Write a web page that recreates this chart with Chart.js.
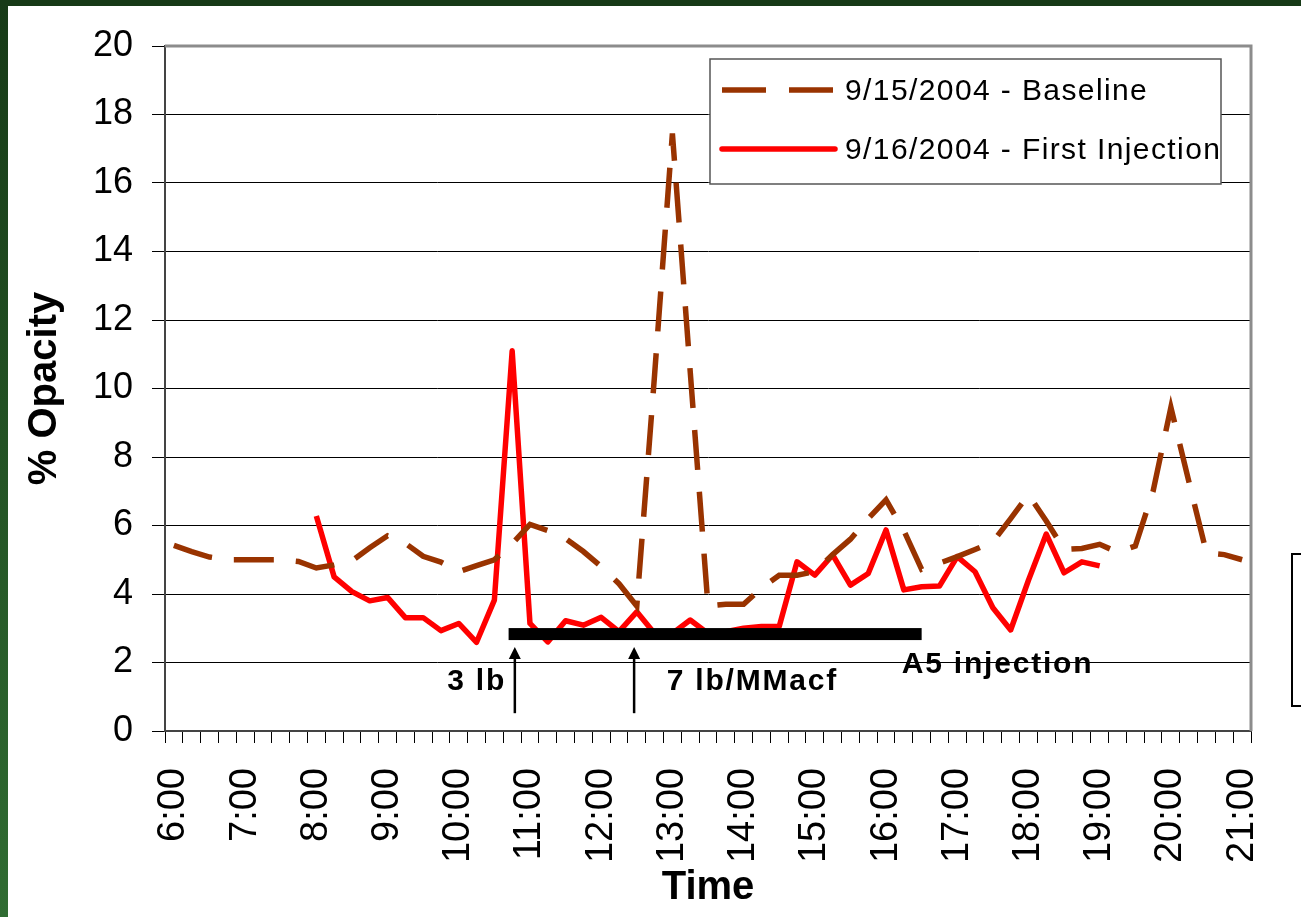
<!DOCTYPE html>
<html>
<head>
<meta charset="utf-8">
<script src="https://cdn.jsdelivr.net/npm/chart.js@4.4.0/dist/chart.umd.min.js"></script>
<style>
  html, body { margin: 0; padding: 0; background: #fff; }
  #wrap { position: relative; width: 1301px; height: 917px; overflow: hidden; background: #fff; }
  .frame-top { position: absolute; left: 0; top: 0; width: 1301px; height: 6px; background: #173a17; }
  .frame-left { position: absolute; left: 0; top: 0; width: 8px; height: 917px; background: linear-gradient(#173a17, #306c32); }
  .stray-box { position: absolute; left: 1291px; top: 553px; width: 40px; height: 150px; border: 2px solid #000; }
  canvas { position: absolute; left: 0; top: 0; }
</style>
</head>
<body>
<div id="wrap">
  <div class="frame-top"></div>
  <div class="frame-left"></div>
  <div class="stray-box"></div>
  <canvas id="opacity" width="1301" height="917"></canvas>
</div>
<script>
// readings every 15 minutes, 6:00 .. 21:00
const times = ['6:00','6:15','6:30','6:45','7:00','7:15','7:30','7:45','8:00','8:15','8:30','8:45',
  '9:00','9:15','9:30','9:45','10:00','10:15','10:30','10:45','11:00','11:15','11:30','11:45',
  '12:00','12:15','12:30','12:45','13:00','13:15','13:30','13:45','14:00','14:15','14:30','14:45',
  '15:00','15:15','15:30','15:45','16:00','16:15','16:30','16:45','17:00','17:15','17:30','17:45',
  '18:00','18:15','18:30','18:45','19:00','19:15','19:30','19:45','20:00','20:15','20:30','20:45','21:00'];

const baseline = [5.42, 5.24, 5.08, 5.0, 5.0, 5.0, 5.0, 4.95, 4.76, 4.85, 4.97, 5.35,
  5.7, 5.48, 5.1, 4.93, 4.65, 4.83, 5.0, 5.47, 6.03, 5.85, 5.62, 5.24,
  4.8, 4.3, 3.65, 10.4, 17.45, 10.5, 3.65, 3.7, 3.7, 4.17, 4.55, 4.55,
  4.65, 5.15, 5.6, 6.2, 6.75, 5.85, 4.72, 4.9, 5.09, 5.3, 5.52, 6.2,
  6.9, 6.13, 5.3, 5.33, 5.45, 5.22, 5.4, 7.0, 9.45, 7.3, 5.2, 5.15, 5.0];

const firstInjection = [null, null, null, null, null, null, null, null, 6.28, 4.5, 4.07, 3.8,
  3.9, 3.31, 3.31, 2.93, 3.14, 2.59, 3.82, 11.1, 3.14, 2.6, 3.22, 3.09,
  3.32, 2.9, 3.48, 2.85, 2.85, 3.24, 2.85, 2.9, 3.0, 3.05, 3.05, 4.94,
  4.55, 5.14, 4.26, 4.6, 5.87, 4.12, 4.21, 4.23, 5.09, 4.65, 3.6, 2.95,
  4.4, 5.75, 4.62, 4.94, 4.82, null, null, null, null, null, null, null, null];

const seriesNames = ['9/15/2004 - Baseline', '9/16/2004 - First Injection'];

// annotation: injection period bar (category index span) and its level
const barSpan = [18.8, 42.0];
const barLevel = 2.83;
// arrows marking the two feed rates (category index), tip and tail level
const arrowAt = [19.15, 25.85];
const arrowLevels = [2.45, 0.52];
const noteText = ['3 lb', '7 lb/MMacf', 'A5 injection'];
const noteAt = [18.66, 27.68, 40.88];
const noteLevel = [1.2, 1.2, 1.69];

const FONT = '"Liberation Sans", Arial, sans-serif';
Chart.defaults.font.family = FONT;
Chart.defaults.color = '#000';

const extras = {
  id: 'extras',
  beforeDatasetsDraw(chart) {
    const c = chart.ctx, a = chart.chartArea;
    c.save();
    c.strokeStyle = '#8c8c8c';
    c.lineWidth = 3;
    c.beginPath();
    c.moveTo(a.left, a.top);
    c.lineTo(a.right, a.top);
    c.lineTo(a.right, a.bottom);
    c.stroke();
    c.restore();
  },
  afterDatasetsDraw(chart) {
    const c = chart.ctx, xs = chart.scales.x, ys = chart.scales.y;
    c.save();
    // injection bar
    const bx0 = xs.getPixelForValue(barSpan[0]);
    const bx1 = xs.getPixelForValue(barSpan[1]);
    const by = ys.getPixelForValue(barLevel);
    c.fillStyle = '#000';
    c.fillRect(bx0, by - 6, bx1 - bx0, 12);
    // arrows
    c.strokeStyle = '#000';
    c.lineWidth = 2.5;
    arrowAt.forEach(v => {
      const x = xs.getPixelForValue(v);
      const yt = ys.getPixelForValue(arrowLevels[0]);
      const yb = ys.getPixelForValue(arrowLevels[1]);
      c.beginPath();
      c.moveTo(x, yb);
      c.lineTo(x, yt + 8);
      c.stroke();
      c.beginPath();
      c.moveTo(x, yt);
      c.lineTo(x - 6, yt + 12);
      c.lineTo(x + 6, yt + 12);
      c.closePath();
      c.fill();
    });
    // notes
    c.font = 'bold 30px ' + FONT;
    c.letterSpacing = '1.8px';
    c.textBaseline = 'alphabetic';
    noteText.forEach((t, i) => {
      c.textAlign = i === 0 ? 'right' : 'left';
      c.fillText(t, xs.getPixelForValue(noteAt[i]), ys.getPixelForValue(noteLevel[i]));
    });
    c.restore();
  },
  afterDraw(chart) {
    const c = chart.ctx, a = chart.chartArea;
    const ds = chart.data.datasets;
    const bx = a.right - 541, bt = a.top + 13;
    c.save();
    c.fillStyle = '#fff';
    c.fillRect(bx, bt, 511, 125);
    c.strokeStyle = '#555';
    c.lineWidth = 1.5;
    c.strokeRect(bx, bt, 511, 125);
    const rows = [bt + 31, bt + 90];
    ds.forEach((d, i) => {
      c.beginPath();
      c.strokeStyle = d.borderColor;
      c.lineWidth = d.borderWidth;
      c.setLineDash(i === 0 ? [44, 23] : []);
      c.lineCap = i === 0 ? 'butt' : 'round';
      c.moveTo(bx + 12, rows[i]);
      c.lineTo(bx + (i === 0 ? 123 : 125), rows[i]);
      c.stroke();
      c.setLineDash([]);
      c.fillStyle = '#000';
      c.font = '30px ' + FONT;
      c.letterSpacing = '1.4px';
      c.textAlign = 'left';
      c.textBaseline = 'alphabetic';
      c.fillText(d.label, bx + 135, rows[i] + 10);
    });
    c.restore();
  }
};

const ctx = document.getElementById('opacity');

let chart = new Chart(ctx, {
  type: 'line',
  data: {
    labels: times,
    datasets: [{
      label: seriesNames[0],
      data: baseline,
      borderColor: '#993300',
      borderWidth: 5.5,
      borderDash: [40, 22],
      pointRadius: 0,
      tension: 0
    }, {
      label: seriesNames[1],
      data: firstInjection,
      borderColor: '#ff0000',
      borderWidth: 5.5,
      borderJoinStyle: 'round',
      pointRadius: 0,
      tension: 0
    }]
  },
  options: {
    responsive: false,
    devicePixelRatio: 1,
    animation: false,
    layout: { padding: { top: 46, right: 50, left: 0, bottom: 0 } },
    plugins: {
      legend: { display: false },
      tooltip: { enabled: false }
    },
    scales: {
      x: {
        type: 'category',
        offset: true,
        grid: { offset: true, drawOnChartArea: false, tickLength: 12, color: '#000', lineWidth: 1 },
        border: { color: '#444', width: 2 },
        ticks: {
          autoSkip: false,
          maxRotation: 90,
          minRotation: 90,
          padding: 25,
          font: { size: 38 },
          callback: (v, i) => i % 4 === 0 ? times[i] : ''
        },
        title: { display: true, text: 'Time', font: { size: 40, weight: 'bold' }, padding: { top: 0, bottom: 5 } },
        afterFit: s => { s.height = 186; s.paddingLeft = 0; s.paddingRight = 0; }
      },
      y: {
        min: 0,
        max: 20,
        ticks: { stepSize: 2, padding: 19, font: { size: 36 } },
        grid: { color: '#000', lineWidth: 1, tickLength: 13 },
        border: { color: '#444', width: 2 },
        title: { display: true, text: '% Opacity', font: { size: 40, weight: 'bold' }, padding: { top: 21, bottom: 0 } },
        afterFit: s => { s.width = 165; s.paddingTop = 0; s.paddingBottom = 0; }
      }
    }
  },
  plugins: [extras]
});
</script>
</body>
</html>
